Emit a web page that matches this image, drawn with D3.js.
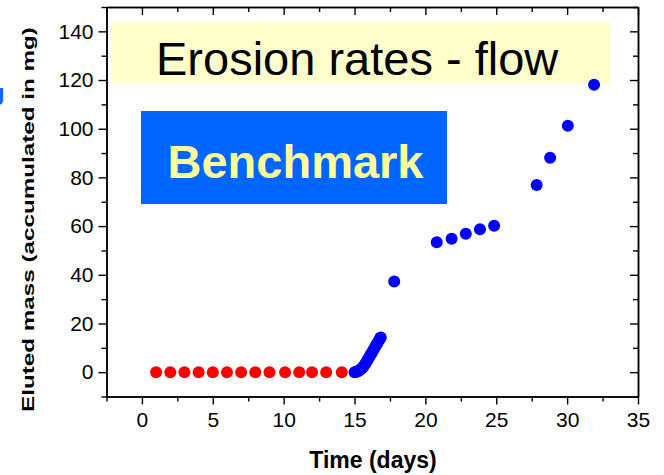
<!DOCTYPE html>
<html><head><meta charset="utf-8">
<script src="https://cdn.jsdelivr.net/npm/d3@7"></script>
<style>body{margin:0;background:#fff}svg{display:block}</style>
</head><body>
<script>
const redDays = [1,2,3,4,5,6,7,8,9,10.1,11.1,12,13,14.1];
const redMass = [0,0,0,0,0,0,0,0,0,0,0,0,0,0];
const blueDays = [15.0,15.1,15.2,15.3,15.4,15.5,15.6,15.7,15.8,15.9,16.0,16.1,16.2,16.3,16.4,16.5,16.6,16.7,16.8,16.85,
  17.8,20.8,21.85,22.85,23.85,24.85,27.85,28.8,30.05,31.9];
const blueMass = [0,0.1,0.3,0.6,1.0,1.5,2.1,2.9,3.8,4.8,5.8,6.8,7.8,8.8,9.8,10.8,11.8,12.8,13.8,14.2,
  37.2,53.4,54.8,56.9,58.7,60.1,76.9,88.1,101.2,118.1];
const xTicks = [0,5,10,15,20,25,30,35];
const yTicks = [0,20,40,60,80,100,120,140];
const titleText = "Erosion rates - flow";
const badgeText = "Benchmark";

const W = 664, H = 475;
const m = {l:106.5, r:26, t:7, b:78.5};
const svg = d3.select("body").append("svg").attr("width", W).attr("height", H);
const x = d3.scaleLinear().domain([-2.5, 35]).range([m.l, W - m.r]);
const y = d3.scaleLinear().domain([-10, 150]).range([H - m.b, m.t]);
const font = "Arial, 'Liberation Sans', sans-serif";

// clipped blue sliver at left edge
svg.append("text").attr("x", -9).attr("y", 100).attr("fill", "#0066ff")
  .attr("font-family", font).attr("font-size", 22).attr("font-weight", "bold").text("g");

// annotations
svg.append("rect").attr("x", 111).attr("y", 22).attr("width", 499).attr("height", 61.5).attr("fill", "#ffffcc");
svg.append("text").attr("x", 156).attr("y", 75).attr("font-family", font).attr("font-size", 47)
  .attr("fill", "#000").text(titleText);
svg.append("rect").attr("x", 141).attr("y", 111).attr("width", 306).attr("height", 93).attr("fill", "#0066ff");
svg.append("text").attr("x", 295.5).attr("y", 178).attr("text-anchor", "middle").attr("font-family", font)
  .attr("font-size", 47).attr("font-weight", "bold").attr("fill", "#ffff99").text(badgeText);

// axes
const minorX = d3.range(-2.5, 35.01, 2.5).filter(v => !xTicks.includes(v));
const minorY = d3.range(-10, 150.01, 10).filter(v => !yTicks.includes(v));
function styleAxis(g){ g.select(".domain").attr("stroke","#000").attr("stroke-width",1.5);
  g.selectAll(".tick line").attr("stroke","#000").attr("stroke-width",1.4);
  g.selectAll("text").attr("font-family", font).attr("font-size", 21).attr("fill","#000"); }

svg.append("g").attr("transform", `translate(0,${H - m.b})`)
  .call(d3.axisBottom(x).tickValues(xTicks).tickSize(8).tickPadding(8).tickSizeOuter(0)).call(styleAxis);
svg.append("g").attr("transform", `translate(0,${H - m.b})`)
  .call(d3.axisBottom(x).tickValues(minorX).tickSize(5).tickFormat("").tickSizeOuter(0)).call(styleAxis);
svg.append("g").attr("transform", `translate(${m.l},0)`)
  .call(d3.axisLeft(y).tickValues(yTicks).tickSize(8).tickPadding(5).tickSizeOuter(0)).call(styleAxis);
svg.append("g").attr("transform", `translate(${m.l},0)`)
  .call(d3.axisLeft(y).tickValues(minorY).tickSize(5).tickFormat("").tickSizeOuter(0)).call(styleAxis);
svg.append("g").attr("transform", `translate(0,${m.t})`)
  .call(d3.axisTop(x).tickValues(xTicks).tickSize(-8).tickFormat("").tickSizeOuter(0)).call(styleAxis);
svg.append("g").attr("transform", `translate(0,${m.t})`)
  .call(d3.axisTop(x).tickValues(minorX).tickSize(-5).tickFormat("").tickSizeOuter(0)).call(styleAxis);
svg.append("g").attr("transform", `translate(${W - m.r},0)`)
  .call(d3.axisRight(y).tickValues(yTicks).tickSize(-8).tickFormat("").tickSizeOuter(0)).call(styleAxis);
svg.append("g").attr("transform", `translate(${W - m.r},0)`)
  .call(d3.axisRight(y).tickValues(minorY).tickSize(-5).tickFormat("").tickSizeOuter(0)).call(styleAxis);

// axis titles
svg.append("text").attr("x", 373).attr("y", 468).attr("text-anchor", "middle")
  .attr("font-family", font).attr("font-size", 23).attr("font-weight", "bold").text("Time (days)");
const yTitle = svg.append("text").attr("text-anchor", "middle")
  .attr("font-family", font).attr("font-size", 16.5).attr("font-weight", "bold")
  .text("Eluted mass (accumulated in mg)");
const natural = yTitle.node().getComputedTextLength() || 243;
const sx = 385 / natural;
yTitle.attr("transform", `translate(33.5,219.5) rotate(-90) scale(${sx},1)`);

// points
svg.append("g").selectAll("circle").data(redDays).join("circle")
  .attr("cx", d => x(d)).attr("cy", (d,i) => y(redMass[i])).attr("r", 6).attr("fill", "#ff0000");
svg.append("g").selectAll("circle").data(blueDays).join("circle")
  .attr("cx", d => x(d)).attr("cy", (d,i) => y(blueMass[i])).attr("r", 6).attr("fill", "#0000ff");
</script>
</body></html>
